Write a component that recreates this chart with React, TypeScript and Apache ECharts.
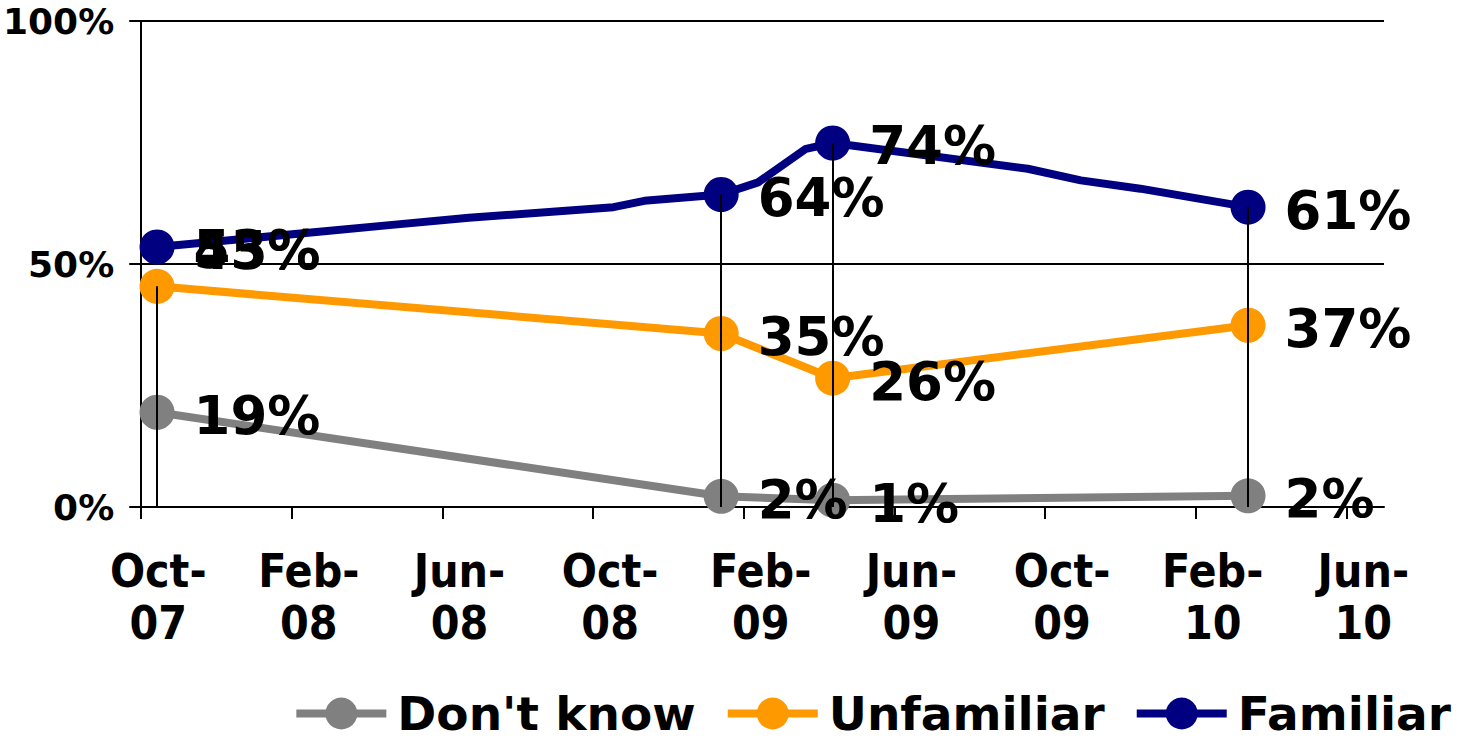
import React, { useEffect, useRef } from 'react';
import * as echarts from 'echarts';

// x values are months counted from October 2007 (0 = Oct-07)
const tickMonths = [0, 4, 8, 12, 16, 20, 24, 28, 32];
const monthNames = ['Jan', 'Feb', 'Mar', 'Apr', 'May', 'Jun', 'Jul', 'Aug', 'Sep', 'Oct', 'Nov', 'Dec'];

const seriesNames = ["Don't know", 'Unfamiliar', 'Familiar'];
const seriesColors = ['#808080', '#FF9900', '#000080'];

// survey points
const surveyMonths = [0.42, 15.4, 18.36, 29.39];
const dontKnow = [19.5, 2.2, 1.4, 2.3];
const unfamiliar = [45.4, 35.7, 26.5, 37.4];
const familiar = [53.5, 64.3, 74.9, 61.7];
const dontKnowLabels = ['19%', '2%', '1%', '2%'];
const unfamiliarLabels = ['45%', '35%', '26%', '37%'];
const familiarLabels = ['53%', '64%', '74%', '61%'];

// the Familiar line bends between survey points
const familiarPathMonths = [0.42, 6.59, 8.7, 12.54, 13.36, 15.4, 16.38, 17.65, 18.36, 23.54, 24.95, 26.53, 29.39];
const familiarPathValues = [53.5, 58.0, 59.5, 61.7, 63.0, 64.3, 66.8, 73.7, 74.9, 69.6, 67.2, 65.5, 61.7];

// vertical drop lines from the survey points to the axis
const dropLineTops = [45.4, 64.3, 74.9, 61.7];

const FONT = "'DejaVu Sans', Verdana, sans-serif";
const FONT_COND = "'DejaVu Sans Condensed', 'DejaVu Sans', sans-serif";

function monthLabel(v: number): string {
  const k = 9 + Math.round(v);
  const year = 2007 + Math.floor(k / 12);
  return `${monthNames[k % 12]}-\n${String(year % 100).padStart(2, '0')}`;
}

const labelBase = {
  show: true,
  position: 'right',
  distance: 19,
  fontFamily: FONT,
  fontWeight: 'bold',
  fontSize: 53,
  color: '#000',
};

function buildSeries(
  idx: number,
  months: number[],
  values: number[],
  labels: string[],
  labelOffsets: number[][]
) {
  const color = seriesColors[idx];
  const data = months.map((m, i) => {
    const s = surveyMonths.indexOf(m);
    if (s < 0) {
      return { value: [m, values[i]], symbol: 'none', label: { show: false } };
    }
    return {
      value: [m, values[i]],
      label: { ...labelBase, formatter: labels[s], offset: labelOffsets[s] },
    };
  });
  return {
    type: 'line',
    name: seriesNames[idx],
    data,
    symbol: 'circle',
    symbolSize: 35,
    showAllSymbol: true,
    lineStyle: { color, width: 8 },
    itemStyle: { color },
    z: 3,
    silent: true,
  };
}

export default function App() {
  const ref = useRef<HTMLDivElement>(null);

  useEffect(() => {
    if (!ref.current) return;
    const chart = echarts.init(ref.current, undefined, { renderer: 'svg' });
    const std = [[0, 3], [0, 3], [0, 3], [0, 3]];
    const option = {
      animation: false,
      backgroundColor: '#fff',
      grid: { left: 140, right: 75, top: 21, bottom: 236, containLabel: false },
      xAxis: {
        type: 'value',
        min: 0,
        max: 33,
        axisLine: { show: true, lineStyle: { color: '#000', width: 2 } },
        axisTick: {
          show: true,
          customValues: tickMonths,
          length: 12,
          lineStyle: { color: '#000', width: 2 },
        },
        axisLabel: {
          customValues: tickMonths,
          formatter: (v: number) => monthLabel(v),
          fontFamily: FONT_COND,
          fontWeight: 'bold',
          fontSize: 46,
          lineHeight: 52,
          color: '#000',
          margin: 38,
          padding: [0, 0, 0, 34],
        },
        splitLine: { show: false },
      },
      yAxis: {
        type: 'value',
        min: 0,
        max: 100,
        interval: 50,
        axisLine: { show: true, lineStyle: { color: '#000', width: 2 } },
        axisTick: { show: true, length: 12, lineStyle: { color: '#000', width: 2 } },
        axisLabel: {
          formatter: (v: number) => `${v}%`,
          fontFamily: FONT,
          fontWeight: 'bold',
          fontSize: 36,
          color: '#000',
          margin: 27,
        },
        splitLine: { show: true, lineStyle: { color: '#000', width: 2 } },
      },
      legend: {
        data: seriesNames,
        right: 3,
        top: 685,
        itemWidth: 90,
        itemHeight: 40,
        itemGap: 28,
        lineStyle: { width: 8 },
        textStyle: {
          fontFamily: FONT,
          fontWeight: 'bold',
          fontSize: 47,
          lineHeight: 46,
          color: '#000',
          padding: [0, 0, 0, 6],
        },
      },
      series: [
        {
          type: 'line',
          name: 'drops',
          data: surveyMonths.map((m, i) => [m, dropLineTops[i]]),
          showSymbol: false,
          lineStyle: { opacity: 0 },
          silent: true,
          z: 1,
          markLine: {
            silent: true,
            symbol: ['none', 'none'],
            label: { show: false },
            lineStyle: { color: '#000', width: 2, type: 'solid' },
            data: surveyMonths.map((m, i) => [
              { coord: [m, dropLineTops[i]] },
              { coord: [m, 0] },
            ]),
          },
        },
        buildSeries(0, surveyMonths, dontKnow, dontKnowLabels, std),
        buildSeries(1, surveyMonths, unfamiliar, unfamiliarLabels, [[0, -36], [0, 3], [0, 3], [0, 3]]),
        buildSeries(2, familiarPathMonths, familiarPathValues, familiarLabels, std),
      ],
    };
    chart.setOption(option as any);
    return () => chart.dispose();
  }, []);

  return (
    <div
      ref={ref}
      style={{ position: 'absolute', left: 0, top: 0, width: 1459, height: 743 }}
    />
  );
}
